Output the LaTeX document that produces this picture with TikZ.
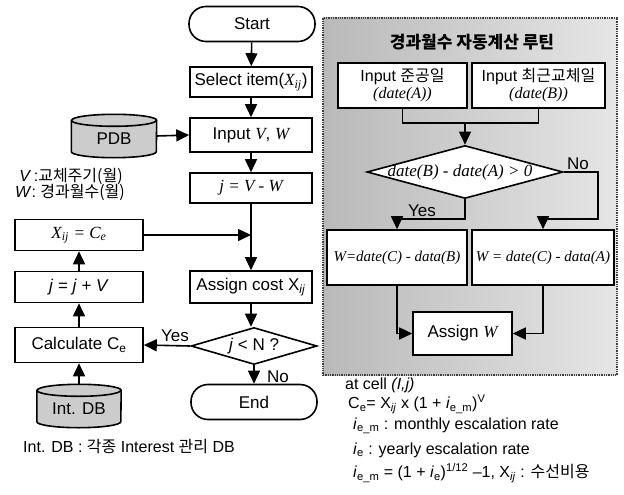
\documentclass[tikz,border=0pt]{standalone}
\usepackage{fontspec}
\setmainfont{Liberation Sans}
\newfontfamily\kr{Noto Sans CJK KR}
\newfontfamily\tms{Liberation Serif}
\usetikzlibrary{arrows.meta,shapes.geometric}
\newcommand\ti[1]{{\tms\itshape #1}}
\newcommand\sub[1]{\textsubscript{#1}}
\newcommand\fs[1]{\fontsize{#1}{#1}\selectfont}
\begin{document}
\begin{tikzpicture}[x=1pt,y=-1pt,
  every node/.style={font=\fs{17}, inner sep=0pt},
  box/.style={draw, line width=1.6pt, fill=white, minimum width=122pt, minimum height=30pt, align=center},
  lbox/.style={box, minimum width=128pt},
  term/.style={box, rounded corners=17pt, minimum width=126pt, minimum height=35pt},
  dia/.style={draw, line width=1.6pt, fill=white, diamond},
  arr/.style={line width=1.6pt, -{Triangle[length=13pt,width=12pt]}},
  ln/.style={line width=1.6pt},
  cyl/.style={draw, line width=1.6pt, fill=gray!40},
  panel/.style={draw=black!75, densely dotted, line width=1.3pt, left color=gray!55, right color=gray!20},
  note/.style={anchor=west, font=\fs{16}}
]
\useasboundingbox (0,0) rectangle (624,495);

% ---------- right panel ----------
\node[panel, minimum width=294pt, minimum height=357pt] (panel) at (470,196.5) {};
\node[font=\fs{17}\kr\bfseries] (title) at (472,42) {경과월수 자동계산 루틴};
\node[box, minimum width=129pt, minimum height=45pt, font=\fs{16}, align=center] (b1) at (402.5,85.5)
  {Input {\kr 준공일}\\[1pt]\ti{(date(A))}};
\node[box, minimum width=133pt, minimum height=45pt, font=\fs{16}, align=center] (b2) at (538.5,85.5)
  {Input {\kr 최근교체일}\\[1pt]\ti{(date(B))}};
\node[dia, minimum width=196pt, minimum height=53pt] (d1) at (465,172) {};
\node[font=\fs{17}] (d1t) at (460,172) {\ti{date(B) - date(A) > 0}};
\coordinate (mrg) at (465,123);
\draw[ln] (b1.south) |- (mrg) -| (b2.south);
\draw[arr] (mrg) -- (d1.north);

\node[box, minimum width=140pt, minimum height=55pt, font=\fs{15}] (c1) at (397,257.5) {\ti{W=date(C) - data(B)}};
\node[box, minimum width=142pt, minimum height=55pt, font=\fs{15}] (c2) at (543,257.5) {\ti{W = date(C) - data(A)}};
\node[box, minimum width=99pt, minimum height=43pt] (aw) at (462.5,333.5) {Assign \ti{W}};

\coordinate (ybend) at (465,219);
\coordinate (nbend) at (598,172);
\coordinate (nbend2) at (598,219);
\draw[arr] (d1.south) -- (ybend) -| (c1.north);
\draw[arr] (d1.east) -- (nbend) -- (nbend2) -| (c2.north);
\node (yes1) at (422,211) {Yes};
\node (no1) at (578,164) {No};
\draw[arr] (c1.south) |- (aw.west);
\draw[arr] (c2.south) |- (aw.east);

% ---------- main column ----------
\node[term] (start) at (252,24) {Start};
\node[box] (sel) at (251,82) {Select item(\ti{X}\sub{\ti{ij}})};
\node[box, minimum height=34pt] (inp) at (251,135) {Input \ti{V}, \ti{W}};
\node[box] (jvw) at (251,188) {\ti{j = V - W}};
\node[box, minimum height=32pt] (asg) at (251,287) {Assign cost X\sub{\textit{ij}}};
\node[dia, minimum width=126pt, minimum height=37pt] (dj) at (254,346) {};
\node (djt) at (254,346) {\textit{j} < N ?};
\node[term] (endn) at (254,402) {End};

\draw[arr] (start) -- (sel);
\draw[arr] (sel) -- (inp);
\draw[arr] (inp) -- (jvw);
\draw[arr] (jvw.south) -- (asg.north);
\draw[arr] (asg.south) -- (asg.south |- dj.north);
\draw[arr] (dj.south) -- (dj.south |- endn.north);
\node (no2) at (278,377) {No};

% ---------- left column ----------
\node[minimum width=85pt, minimum height=43pt] (pdb) at (114,136) {};
\draw[cyl] ([yshift=-6pt]pdb.north west) -- ([yshift=6pt]pdb.south west)
  arc[start angle=180, end angle=360, x radius=42.5pt, y radius=6pt]
  -- ([yshift=-6pt]pdb.north east)
  arc[start angle=0, end angle=180, x radius=42.5pt, y radius=6pt] -- cycle;
\draw[ln] ([yshift=-6pt]pdb.north west) arc[start angle=180, end angle=360, x radius=42.5pt, y radius=6pt];
\node (pdbt) at (114,139) {PDB};
\draw[arr] (pdb.east) -- (inp.west);

\node[font=\fs{16}] (vlab) at (71,176) {\textit{V}\,:{\kr 교체주기(월)}};
\node[font=\fs{16}] (wlab) at (70,192) {\textit{W}: {\kr 경과월수(월)}};

\node[lbox, minimum height=31pt] (xij) at (79,235) {\ti{X}\sub{\ti{ij}} \ti{= C}\sub{\ti{e}}};
\node[lbox, minimum height=31pt] (jjv) at (79,287) {\textit{j} = \textit{j} + \textit{V}};
\node[lbox, minimum height=35pt] (calc) at (79,345) {Calculate C\sub{e}};

\node[minimum width=84pt, minimum height=43pt] (intdb) at (79,406) {};
\draw[cyl] ([yshift=-6pt]intdb.north west) -- ([yshift=6pt]intdb.south west)
  arc[start angle=180, end angle=360, x radius=42pt, y radius=6pt]
  -- ([yshift=-6pt]intdb.north east)
  arc[start angle=0, end angle=180, x radius=42pt, y radius=6pt] -- cycle;
\draw[ln] ([yshift=-6pt]intdb.north west) arc[start angle=180, end angle=360, x radius=42pt, y radius=6pt];
\node (intdbt) at (79,409) {Int. DB};

\draw[arr] (xij.east) -- (xij.east -| jvw.south);
\draw[arr] (dj.west) -- (calc.east);
\node (yes2) at (175,336) {Yes};
\draw[arr] (calc.north) -- (jjv.south);
\draw[arr] (jjv.north) -- (xij.south);
\draw[arr] (intdb.north) -- (calc.south);

\node[font=\fs{16}] (cap) at (129,447) {Int. DB : {\kr 각종} Interest {\kr 관리} DB};

% ---------- notes ----------
\node[note] (f1) at (345,385) {at cell \textit{(I,j)}};
\node[note] (f2) at (348,404) {C\sub{e}= X\sub{\textit{ij}} x (1 + \textit{i}\sub{e\_m})\textsuperscript{V}};
\node[note] (f3) at (353,426) {\textit{i}\sub{e\_m} : monthly escalation rate};
\node[note] (f4) at (353,450) {\textit{i}\sub{e} : yearly escalation rate};
\node[note] (f5) at (353,473) {\textit{i}\sub{e\_m} = (1 + \textit{i}\sub{e})\textsuperscript{1/12} –1, X\sub{\textit{ij}} : {\kr 수선비용}};
\end{tikzpicture}
\end{document}
